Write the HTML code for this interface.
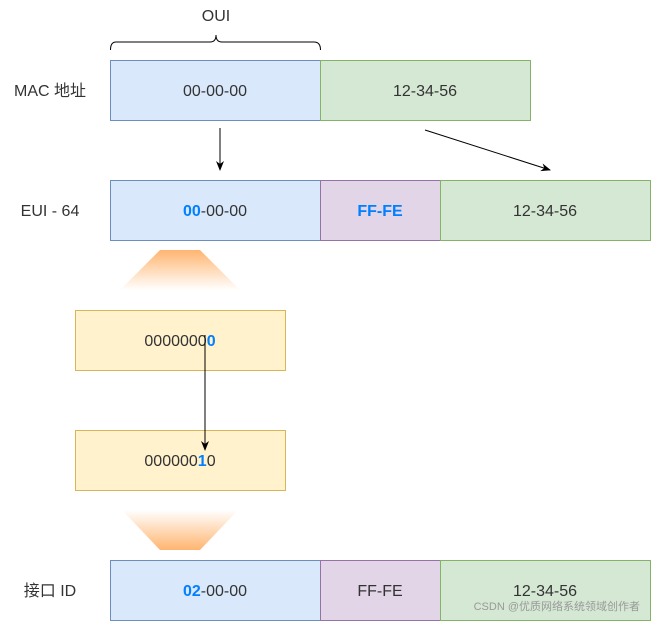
<!DOCTYPE html>
<html><head><meta charset="utf-8"><style>html,body{margin:0;padding:0;background:#fff}</style></head>
<body>
<svg width="651" height="621" xmlns="http://www.w3.org/2000/svg" font-family="'Liberation Sans','Noto Sans CJK SC',sans-serif" font-size="16">
<defs>
<linearGradient id="g1" x1="0" y1="0" x2="0" y2="1"><stop offset="0" stop-color="#ffb570"/><stop offset="1" stop-color="#ffb570" stop-opacity="0"/></linearGradient>
<linearGradient id="g2" x1="0" y1="1" x2="0" y2="0"><stop offset="0" stop-color="#ffb570"/><stop offset="1" stop-color="#ffb570" stop-opacity="0"/></linearGradient>
<marker id="a" markerWidth="10" markerHeight="10" refX="9" refY="5" orient="auto" markerUnits="userSpaceOnUse"><path d="M0,1 L10,5 L0,9 L3,5 z" fill="#000"/></marker>
</defs>
<text x="216" y="21" text-anchor="middle" fill="#333">OUI</text>
<path d="M110.5,50 Q110.5,42 116,42 L210,42 Q216,42 216,35 Q216,42 222,42 L314,42 Q320.5,42 320.5,50" fill="none" stroke="#000"/>
<g text-anchor="middle" fill="#333">
<text x="50" y="96">MAC 地址</text>
<text x="50" y="216">EUI - 64</text>
<text x="50" y="596">接口 ID</text>
</g>
<g stroke-width="1">
<rect x="110.5" y="60.5" width="210" height="60" fill="#dae8fc" stroke="#6c8ebf"/>
<rect x="320.5" y="60.5" width="210" height="60" fill="#d5e8d4" stroke="#82b366"/>
<rect x="110.5" y="180.5" width="210" height="60" fill="#dae8fc" stroke="#6c8ebf"/>
<rect x="320.5" y="180.5" width="120" height="60" fill="#e1d5e7" stroke="#9673a6"/>
<rect x="440.5" y="180.5" width="210" height="60" fill="#d5e8d4" stroke="#82b366"/>
<rect x="75.5" y="310.5" width="210" height="60" fill="#fff2cc" stroke="#d6b656"/>
<rect x="75.5" y="430.5" width="210" height="60" fill="#fff2cc" stroke="#d6b656"/>
<rect x="110.5" y="560.5" width="210" height="60" fill="#dae8fc" stroke="#6c8ebf"/>
<rect x="320.5" y="560.5" width="120" height="60" fill="#e1d5e7" stroke="#9673a6"/>
<rect x="440.5" y="560.5" width="210" height="60" fill="#d5e8d4" stroke="#82b366"/>
</g>
<polygon points="160,250 200,250 240,290 120,290" fill="url(#g1)"/>
<polygon points="122,510 238,510 200,550 160,550" fill="url(#g2)"/>
<g text-anchor="middle" fill="#333">
<text x="215" y="96">00-00-00</text>
<text x="425" y="96">12-34-56</text>
<text x="215" y="216"><tspan fill="#007fff" font-weight="bold">00</tspan>-00-00</text>
<text x="380" y="216" fill="#007fff" font-weight="bold">FF-FE</text>
<text x="545" y="216">12-34-56</text>
<text x="180" y="346">0000000<tspan fill="#007fff" font-weight="bold">0</tspan></text>
<text x="180" y="466">000000<tspan fill="#007fff" font-weight="bold">1</tspan>0</text>
<text x="215" y="596"><tspan fill="#007fff" font-weight="bold">02</tspan>-00-00</text>
<text x="380" y="596">FF-FE</text>
<text x="545" y="596">12-34-56</text>
</g>
<text x="640" y="610" text-anchor="end" font-size="11" fill="#999">CSDN @优质网络系统领域创作者</text>
<line x1="220" y1="128" x2="220" y2="170" stroke="#000" marker-end="url(#a)"/>
<line x1="425" y1="130" x2="550" y2="170" stroke="#000" marker-end="url(#a)"/>
<line x1="205" y1="335" x2="205" y2="450" stroke="#000" marker-end="url(#a)"/>
</svg>
</body></html>
